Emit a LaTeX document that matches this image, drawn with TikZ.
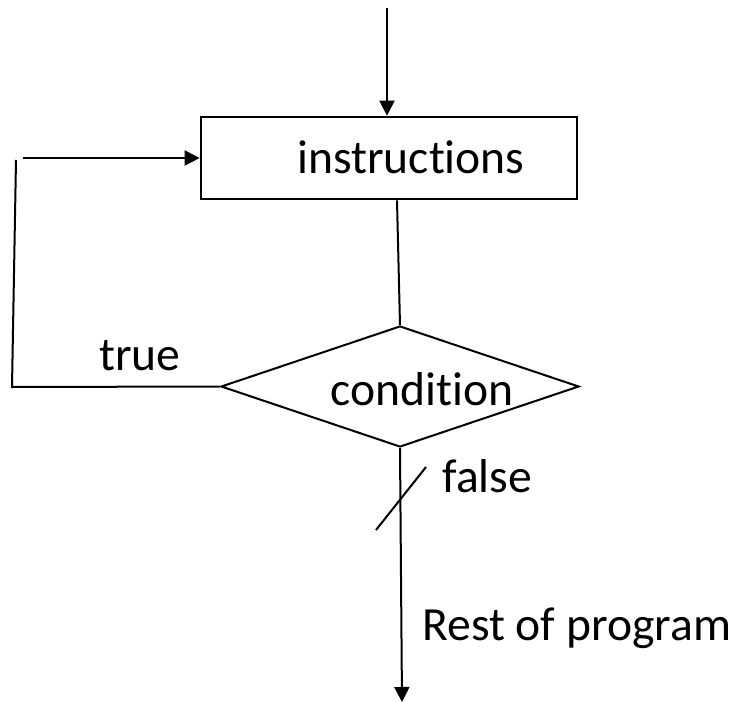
\documentclass[tikz,border=0pt]{standalone}
\usepackage{fontspec}
\setmainfont{Carlito}[Ligatures=NoCommon]
\usetikzlibrary{arrows.meta,shapes.geometric}
\tikzset{
  bloque/.style={draw=black,line width=1.35pt,fill=white,inner sep=0pt,minimum width=188pt,minimum height=41pt},
  rombo/.style={diamond,draw=black,line width=1pt,inner sep=0pt,minimum width=179pt,minimum height=60.5pt},
  texto/.style={font=\fontsize{23.8}{28}\selectfont,inner sep=0pt,anchor=base},
  flecha/.style={draw=black,line width=1pt,-{Triangle[length=7.5pt,width=7.5pt]}},
  linea/.style={draw=black,line width=1pt},
}
\begin{document}
\begin{tikzpicture}[x=0.5pt,y=-0.5pt]
\useasboundingbox (0,0) rectangle (736,702);
\coordinate (entrada) at (387,8);
\coordinate (salida) at (402,702);
\coordinate (vueltaA) at (12,387);
\coordinate (vueltaB) at (16,160);
\coordinate (vueltaC) at (23,158);
\coordinate (corte1) at (376,530);
\coordinate (corte2) at (426,467);
% bloques
\node[bloque] (instr) at (389,158) {};
\node[rombo] (cond) at (400,386.5) {};
\node[texto] (instrtxt) at (411,173) {instructions};
\node[texto] (condtxt) at (422,405) {condition};
\node[texto] (verdad) at (140,370) {true};
\node[texto,anchor=base west] (falso) at (442,492) {false};
\node[texto,anchor=base west] (resto) at (422,640) {Rest of program};
% conectores
\draw[flecha] (entrada) -- (entrada |- instr.north);
\draw[linea] ([xshift=4pt]instr.south) -- (cond.north);
\draw[linea] (cond.west) -- (vueltaA) -- (vueltaB);
\draw[flecha] (vueltaC) -- (instr.west);
\draw[flecha] (cond.south) -- (salida);
\draw[linea] (corte1) -- (corte2);
\end{tikzpicture}
\end{document}
